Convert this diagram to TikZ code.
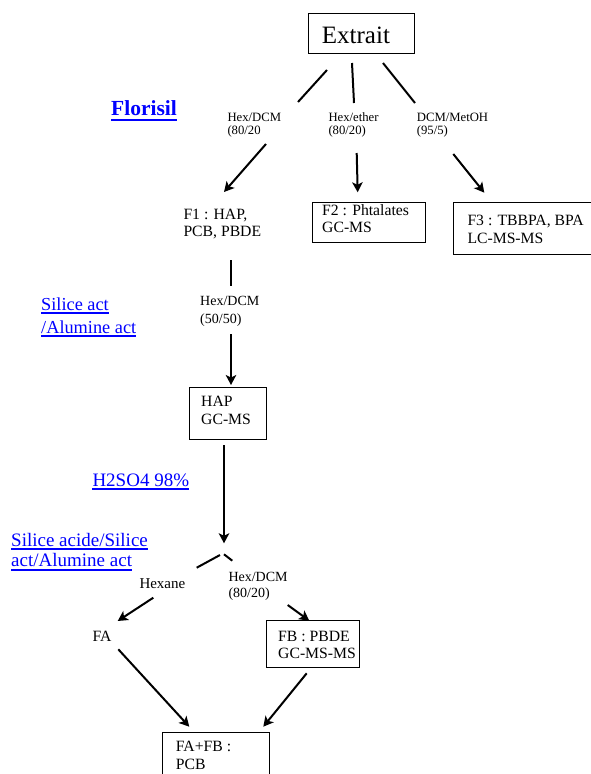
\documentclass[tikz,border=0pt]{standalone}
\usepackage{fontspec}
\setmainfont{Liberation Serif}
\usetikzlibrary{arrows.meta}
\definecolor{linkblue}{RGB}{0,0,255}
\newcommand\fsz[2]{\fontsize{#1}{#2}\selectfont}
\begin{document}
\begin{tikzpicture}[x=1pt,y=-1pt,
  conn/.style={line width=2pt},
  arr/.style={conn,-{Stealth[length=10pt,width=10.5pt,inset=2.5pt]}},
  box/.style={draw,line width=0.9pt,anchor=north west,inner sep=0pt},
  txt/.style={inner sep=0pt,anchor=north west,align=left},
  lbl/.style={inner sep=0pt,anchor=base west},
  link/.style={lbl,text=linkblue},
  ul/.style={draw=linkblue,line width=1.8pt},
  body/.style={font=\fsz{15.7}{17.4}},
  small/.style={font=\fsz{12.7}{13.3}},
  mid/.style={font=\fsz{14}{18}}]
\useasboundingbox (0,0) rectangle (591,774);
\clip (0,0) rectangle (591,774);

% ---------- boxes ----------
\node[box,minimum width=106pt,minimum height=40pt] (extrait) at (308,13) {};
\node[lbl,font=\fsz{25}{28}] (extraitT) at (321.7,43) {Extrait};

\node[box,minimum width=113pt,minimum height=40pt] (f2) at (312,202) {};
\node[txt,body] (f2T) at (322,202.8) {\strut F2 : Phtalates\\GC-MS};

\node[box,minimum width=153pt,minimum height=52pt] (f3) at (453.3,202.3) {};
\node[txt,body] (f3T) at (467.3,213.5) {\strut F3 : TBBPA, BPA\\LC-MS-MS};

\node[box,minimum width=77pt,minimum height=52pt] (hap) at (189,387) {};
\node[txt,body] (hapT) at (201,394.5) {\strut HAP\\GC-MS};

\node[box,minimum width=93pt,minimum height=47pt] (fb) at (266,620) {};
\node[txt,body] (fbT) at (278,628.8) {\strut FB : PBDE\\GC-MS-MS};

\node[box,minimum width=106.7pt,minimum height=46pt] (fafb) at (162.3,732.3) {};
\node[txt,body] (fafbT) at (175.7,739.5) {\strut FA+FB :\\PCB};

% ---------- plain texts ----------
\node[txt,body] (f1) at (183.3,207.1) {\strut F1 : HAP,\\PCB, PBDE};
\node[lbl,font=\fsz{15.7}{17.4}] (fa) at (92.3,641) {FA};

\node[txt,small] (s1) at (227.3,111.7) {\strut Hex/DCM\\(80/20};
\node[txt,small] (s2) at (328.3,111.7) {\strut Hex/ether\\(80/20)};
\node[txt,small] (s3) at (416.7,111.7) {\strut DCM/MetOH\\(95/5)};
\node[txt,mid] (s4) at (200,293.1) {\strut Hex/DCM\\(50/50)};
\node[txt,font=\fsz{14}{16.5}] (s5) at (228.3,569.5) {\strut Hex/DCM\\(80/20)};
\node[lbl,font=\fsz{15}{17}] (hexane) at (139.3,588.3) {Hexane};

% ---------- blue underlined labels ----------
\node[link,font=\fsz{21.5}{24}\bfseries] (florisil) at (111,115.7) {Florisil};
\draw[ul,line width=2.2pt] ([yshift=-4.5pt]florisil.base west) -- ([yshift=-4.5pt]florisil.base east);

\node[link,font=\fsz{18.3}{23}] (sil1) at (41,310) {Silice act};
\node[link,font=\fsz{18.3}{23}] (sil2) at (41,333.3) {/Alumine act};
\draw[ul] ([yshift=-3pt]sil1.base west) -- ([yshift=-3pt]sil1.base east);
\draw[ul] ([yshift=-3pt]sil2.base west) -- ([yshift=-3pt]sil2.base east);

\node[link,font=\fsz{19}{20}] (h2so4) at (92.3,486.7) {H2SO4 98\%};
\draw[ul] ([yshift=-2.5pt]h2so4.base west) -- ([yshift=-2.5pt]h2so4.base east);

\node[link,font=\fsz{19}{20}] (sa1) at (11,546.7) {Silice acide/Silice};
\node[link,font=\fsz{19}{20}] (sa2) at (11,566.7) {act/Alumine act};
\draw[ul] ([yshift=-2.5pt]sa1.base west) -- ([yshift=-2.5pt]sa1.base east);
\draw[ul] ([yshift=-3.5pt]sa2.base west) -- ([yshift=-3.5pt]sa2.base east);

% ---------- connector end points ----------
\coordinate (e1a) at (327,70);    \coordinate (e1b) at (298,102);
\coordinate (e2a) at (352,63);    \coordinate (e2b) at (354,103);
\coordinate (e3a) at (383,63);    \coordinate (e3b) at (415,103);
\coordinate (a1a) at (266,144);   \coordinate (a1b) at (224,192);
\coordinate (a2a) at (356.7,153); \coordinate (a2b) at (357.7,192.3);
\coordinate (a3a) at (453.3,154); \coordinate (a3b) at (484.3,192.7);
\coordinate (b1a) at (231,260);   \coordinate (b1b) at (231,286);
\coordinate (b2a) at (231,334);   \coordinate (b2b) at (231,385);
\coordinate (c1a) at (224,445);   \coordinate (c1b) at (224,543.3);
\coordinate (d1a) at (220,555);   \coordinate (d1b) at (196.7,567.7);
\coordinate (d2a) at (224,554.3); \coordinate (d2b) at (232.3,560.7);
\coordinate (g1a) at (153.3,597.7); \coordinate (g1b) at (117.7,621);
\coordinate (g2a) at (287.7,605); \coordinate (g2b) at (309.3,620.7);
\coordinate (h1a) at (118.3,649.3); \coordinate (h1b) at (189.3,726.7);
\coordinate (h2a) at (306.7,673.3); \coordinate (h2b) at (263.3,726.7);

% ---------- connectors ----------
\draw[conn] (e1a) -- (e1b);
\draw[conn] (e2a) -- (e2b);
\draw[conn] (e3a) -- (e3b);
\draw[arr] (a1a) -- (a1b);
\draw[arr] (a2a) -- (a2b);
\draw[arr] (a3a) -- (a3b);
\draw[conn] (b1a) -- (b1b);
\draw[arr] (b2a) -- (b2b);
\draw[arr] (c1a) -- (c1b);
\draw[conn] (d1a) -- (d1b);
\draw[conn] (d2a) -- (d2b);
\draw[arr] (g1a) -- (g1b);
\draw[arr] (g2a) -- (g2b);
\draw[arr] (h1a) -- (h1b);
\draw[arr] (h2a) -- (h2b);
\end{tikzpicture}
\end{document}
